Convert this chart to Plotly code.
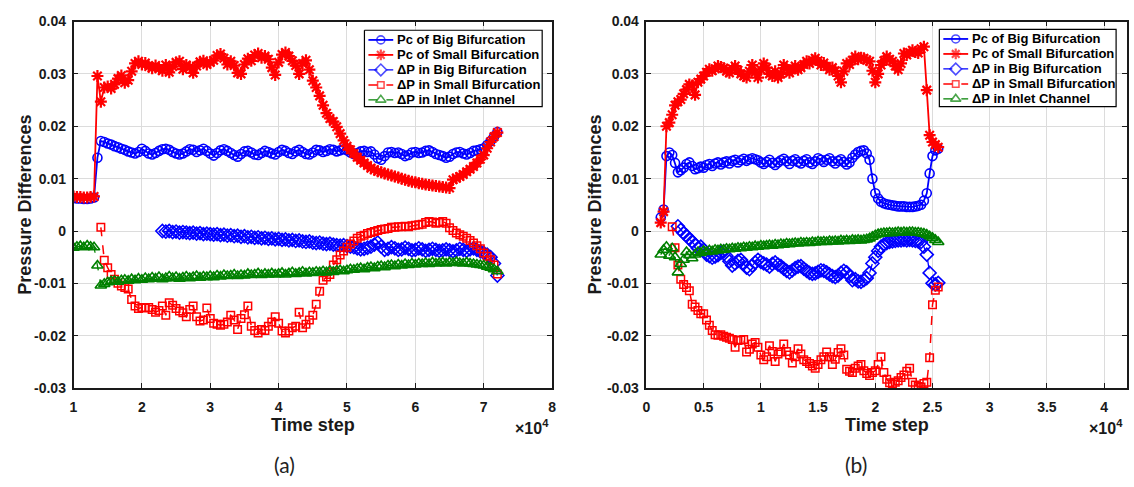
import numpy as np
import plotly.graph_objects as go

# ---------------------------------------------------------------
# Time steps: panel (a) sampled every 500 steps, panel (b) every 250
# ---------------------------------------------------------------
time_a = np.arange(10000, 72001, 500)      # 1.0e4 ... 7.2e4  (125 samples)
time_b = np.arange(1250, 25501, 250)       # 0.125e4 ... 2.55e4 (98 samples)

N = None

# ----------------------------- panel (a) -----------------------------
pc_big_a = [
    0.0063, 0.0062, 0.0062, 0.0061, 0.0061, 0.0062, 0.0064, 0.0140, 0.0172, 0.0170,
    0.0167, 0.0165, 0.0162, 0.0160, 0.0157, 0.0155, 0.0152, 0.0150, 0.0148, 0.0151,
    0.0157, 0.0153, 0.0148, 0.0146, 0.0149, 0.0153, 0.0156, 0.0157, 0.0155, 0.0151,
    0.0148, 0.0146, 0.0148, 0.0152, 0.0156, 0.0155, 0.0151, 0.0154, 0.0157, 0.0153,
    0.0148, 0.0144, 0.0149, 0.0154, 0.0156, 0.0153, 0.0149, 0.0145, 0.0142, 0.0147,
    0.0152, 0.0153, 0.0150, 0.0146, 0.0145, 0.0149, 0.0153, 0.0151, 0.0148, 0.0146,
    0.0151, 0.0155, 0.0153, 0.0149, 0.0147, 0.0152, 0.0155, 0.0151, 0.0147, 0.0146,
    0.0150, 0.0155, 0.0154, 0.0151, 0.0153, 0.0156, 0.0155, 0.0152, 0.0154, 0.0156,
    0.0154, 0.0150, 0.0147, 0.0149, 0.0152, 0.0153, 0.0151, 0.0152, 0.0146, 0.0139,
    0.0136, 0.0143, 0.0150, 0.0151, 0.0149, 0.0150, 0.0147, 0.0143, 0.0145, 0.0150,
    0.0151, 0.0149, 0.0150, 0.0153, 0.0154, 0.0151, 0.0147, 0.0145, 0.0143, 0.0140,
    0.0142, 0.0147, 0.0150, 0.0151, 0.0148, 0.0146, 0.0149, 0.0153, 0.0154, 0.0156,
    0.0158, 0.0164, 0.0172, 0.0180, 0.0189,
]

pc_small_a = [
    0.0066, 0.0065, 0.0065, 0.0064, 0.0064, 0.0065, 0.0066, 0.0296, 0.0247, 0.0274,
    0.0276, 0.0272, 0.0280, 0.0291, 0.0297, 0.0283, 0.0288, 0.0305, 0.0320, 0.0324,
    0.0318, 0.0321, 0.0314, 0.0311, 0.0316, 0.0310, 0.0306, 0.0317, 0.0303, 0.0314,
    0.0322, 0.0324, 0.0309, 0.0317, 0.0313, 0.0302, 0.0315, 0.0323, 0.0325, 0.0318,
    0.0322, 0.0326, 0.0335, 0.0338, 0.0330, 0.0318, 0.0324, 0.0316, 0.0302, 0.0300,
    0.0318, 0.0329, 0.0325, 0.0336, 0.0339, 0.0331, 0.0334, 0.0328, 0.0312, 0.0298,
    0.0322, 0.0337, 0.0341, 0.0334, 0.0325, 0.0316, 0.0300, 0.0320, 0.0326, 0.0308,
    0.0287, 0.0274, 0.0258, 0.0240, 0.0225, 0.0215, 0.0209, 0.0199, 0.0186, 0.0173,
    0.0162, 0.0155, 0.0148, 0.0141, 0.0135, 0.0130, 0.0125, 0.0120, 0.0117, 0.0114,
    0.0112, 0.0110, 0.0108, 0.0106, 0.0104, 0.0102, 0.0100, 0.0098, 0.0096, 0.0094,
    0.0093, 0.0091, 0.0090, 0.0089, 0.0088, 0.0087, 0.0086, 0.0085, 0.0084, 0.0083,
    0.0082, 0.0098, 0.0101, 0.0104, 0.0108, 0.0113, 0.0118, 0.0123, 0.0130, 0.0137,
    0.0145, 0.0158, 0.0170, 0.0180, 0.0188,
]

dp_big_a = [
    N, N, N, N, N, N, N, N, N, N,
    N, N, N, N, N, N, N, N, N, N,
    N, N, N, N, N, N, 0.0000, -0.0001, 0.0000, -0.0002,
    -0.0001, -0.0003, -0.0002, -0.0003, -0.0004, -0.0003, -0.0005, -0.0004, -0.0006, -0.0005,
    -0.0006, -0.0007, -0.0006, -0.0008, -0.0007, -0.0009, -0.0008, -0.0010, -0.0009, -0.0011,
    -0.0010, -0.0012, -0.0011, -0.0013, -0.0012, -0.0014, -0.0013, -0.0015, -0.0014, -0.0016,
    -0.0015, -0.0017, -0.0016, -0.0018, -0.0017, -0.0019, -0.0018, -0.0020, -0.0021, -0.0020,
    -0.0022, -0.0023, -0.0022, -0.0024, -0.0025, -0.0024, -0.0026, -0.0027, -0.0028, -0.0027,
    -0.0029, -0.0030, -0.0031, -0.0033, -0.0035, -0.0034, -0.0032, -0.0030, -0.0026, -0.0022,
    -0.0030, -0.0036, -0.0034, -0.0031, -0.0033, -0.0036, -0.0035, -0.0032, -0.0034, -0.0037,
    -0.0036, -0.0033, -0.0035, -0.0038, -0.0036, -0.0034, -0.0036, -0.0038, -0.0037, -0.0035,
    -0.0037, -0.0039, -0.0037, -0.0034, -0.0036, -0.0038, -0.0035, -0.0033, -0.0036, -0.0039,
    -0.0042, -0.0045, -0.0050, -0.0062, -0.0085,
]

dp_small_a = [
    N, N, N, N, N, N, N, N, 0.0007, -0.0056,
    -0.0070, -0.0083, -0.0092, -0.0100, -0.0105, -0.0108, -0.0111, -0.0131, -0.0143, -0.0148,
    -0.0146, -0.0147, -0.0146, -0.0150, -0.0155, -0.0152, -0.0143, -0.0161, -0.0137, -0.0142,
    -0.0148, -0.0153, -0.0156, -0.0164, -0.0150, -0.0143, -0.0164, -0.0172, -0.0170, -0.0147,
    -0.0167, -0.0176, -0.0178, -0.0180, -0.0178, -0.0174, -0.0161, -0.0170, -0.0188, -0.0167,
    -0.0160, -0.0143, -0.0182, -0.0190, -0.0195, -0.0188, -0.0190, -0.0182, -0.0174, -0.0164,
    -0.0176, -0.0191, -0.0195, -0.0191, -0.0185, -0.0182, -0.0155, -0.0185, -0.0178, -0.0170,
    -0.0161, -0.0140, -0.0115, -0.0094, -0.0088, -0.0083, -0.0065, -0.0055, -0.0046, -0.0038,
    -0.0031, -0.0025, -0.0019, -0.0014, -0.0010, -0.0008, -0.0005, -0.0003, -0.0001, 0.0001,
    0.0003, 0.0004, 0.0005, 0.0007, 0.0007, 0.0008, 0.0008, 0.0009, 0.0008, 0.0010,
    0.0011, 0.0012, 0.0013, 0.0016, 0.0018, 0.0017, 0.0015, 0.0016, 0.0018, 0.0015,
    0.0006, 0.0001, -0.0004, -0.0007, -0.0010, -0.0014, -0.0018, -0.0023, -0.0028, -0.0034,
    -0.0042, -0.0048, -0.0055, -0.0065, -0.0082,
]

dp_inlet_a = [
    -0.0032, -0.0030, -0.0029, -0.0031, -0.0028, -0.0030, -0.0031, -0.0066, -0.0104, -0.0101,
    -0.0098, -0.0096, -0.0095, -0.0097, -0.0094, -0.0093, -0.0095, -0.0092, -0.0094, -0.0091,
    -0.0093, -0.0090, -0.0092, -0.0089, -0.0091, -0.0088, -0.0092, -0.0090, -0.0087, -0.0090,
    -0.0088, -0.0091, -0.0089, -0.0087, -0.0090, -0.0088, -0.0086, -0.0089, -0.0087, -0.0088,
    -0.0086, -0.0088, -0.0085, -0.0087, -0.0084, -0.0086, -0.0085, -0.0083, -0.0086, -0.0084,
    -0.0085, -0.0082, -0.0084, -0.0083, -0.0081, -0.0084, -0.0082, -0.0083, -0.0081, -0.0083,
    -0.0082, -0.0080, -0.0083, -0.0081, -0.0079, -0.0082, -0.0080, -0.0078, -0.0081, -0.0079,
    -0.0080, -0.0078, -0.0079, -0.0077, -0.0079, -0.0076, -0.0078, -0.0076, -0.0075, -0.0077,
    -0.0075, -0.0073, -0.0074, -0.0072, -0.0071, -0.0073, -0.0070, -0.0069, -0.0071, -0.0068,
    -0.0067, -0.0069, -0.0066, -0.0065, -0.0067, -0.0064, -0.0066, -0.0063, -0.0065, -0.0062,
    -0.0064, -0.0062, -0.0063, -0.0061, -0.0063, -0.0060, -0.0062, -0.0061, -0.0060, -0.0062,
    -0.0060, -0.0061, -0.0059, -0.0061, -0.0062, -0.0060, -0.0062, -0.0063, -0.0064, -0.0065,
    -0.0066, -0.0068, -0.0070, -0.0073, -0.0077,
]

# ----------------------------- panel (b) -----------------------------
pc_big_b = [
    0.0026, 0.0041, 0.0143, 0.0150, 0.0145, 0.0130, 0.0112, 0.0116, 0.0121, 0.0128,
    0.0131, 0.0124, 0.0118, 0.0120, 0.0123, 0.0121, 0.0126, 0.0128, 0.0124, 0.0129,
    0.0131, 0.0127, 0.0131, 0.0133, 0.0129, 0.0134, 0.0136, 0.0131, 0.0135, 0.0138,
    0.0134, 0.0137, 0.0139, 0.0137, 0.0135, 0.0131, 0.0128, 0.0132, 0.0136, 0.0130,
    0.0126, 0.0131, 0.0135, 0.0138, 0.0133, 0.0128, 0.0134, 0.0137, 0.0132, 0.0129,
    0.0134, 0.0137, 0.0131, 0.0128, 0.0133, 0.0139, 0.0136, 0.0132, 0.0136, 0.0139,
    0.0133, 0.0129, 0.0134, 0.0137, 0.0132, 0.0127, 0.0131, 0.0140, 0.0146, 0.0151,
    0.0153, 0.0154, 0.0148, 0.0136, 0.0100, 0.0072, 0.0062, 0.0056, 0.0053, 0.0051,
    0.0050, 0.0049, 0.0048, 0.0047, 0.0047, 0.0047, 0.0046, 0.0046, 0.0046, 0.0047,
    0.0048, 0.0050, 0.0058, 0.0072, 0.0110, 0.0143, 0.0154, 0.0157,
]

pc_small_b = [
    0.0016, 0.0037, 0.0200, 0.0207, 0.0222, 0.0240, 0.0247, 0.0251, 0.0262, 0.0270,
    0.0280, 0.0278, 0.0260, 0.0284, 0.0290, 0.0296, 0.0303, 0.0309, 0.0306, 0.0310,
    0.0315, 0.0313, 0.0311, 0.0305, 0.0302, 0.0310, 0.0315, 0.0307, 0.0300, 0.0296,
    0.0293, 0.0305, 0.0317, 0.0303, 0.0293, 0.0308, 0.0320, 0.0312, 0.0300, 0.0296,
    0.0305, 0.0293, 0.0300, 0.0317, 0.0310, 0.0302, 0.0308, 0.0315, 0.0308, 0.0312,
    0.0318, 0.0324, 0.0320, 0.0326, 0.0330, 0.0325, 0.0317, 0.0321, 0.0314, 0.0308,
    0.0312, 0.0306, 0.0296, 0.0284, 0.0305, 0.0320, 0.0318, 0.0326, 0.0333, 0.0328,
    0.0331, 0.0330, 0.0326, 0.0324, 0.0306, 0.0284, 0.0300, 0.0317, 0.0325, 0.0333,
    0.0328, 0.0324, 0.0315, 0.0308, 0.0320, 0.0339, 0.0336, 0.0341, 0.0345, 0.0342,
    0.0340, 0.0348, 0.0352, 0.0269, 0.0183, 0.0170, 0.0165, 0.0160,
]

dp_big_b = [
    N, N, N, N, N, N, 0.0009, 0.0002, -0.0004, -0.0009,
    -0.0015, -0.0020, -0.0026, -0.0033, -0.0030, -0.0036, -0.0045, -0.0048, -0.0051, -0.0049,
    -0.0046, -0.0042, -0.0039, -0.0048, -0.0058, -0.0066, -0.0062, -0.0057, -0.0055, -0.0062,
    -0.0070, -0.0073, -0.0066, -0.0060, -0.0055, -0.0059, -0.0062, -0.0064, -0.0068, -0.0063,
    -0.0060, -0.0064, -0.0067, -0.0072, -0.0076, -0.0079, -0.0075, -0.0071, -0.0068, -0.0067,
    -0.0072, -0.0076, -0.0080, -0.0082, -0.0081, -0.0078, -0.0075, -0.0076, -0.0079, -0.0083,
    -0.0086, -0.0088, -0.0085, -0.0080, -0.0076, -0.0079, -0.0086, -0.0094, -0.0092, -0.0096,
    -0.0097, -0.0094, -0.0090, -0.0080, -0.0062, -0.0050, -0.0038, -0.0030, -0.0026, -0.0023,
    -0.0021, -0.0020, -0.0019, -0.0018, -0.0018, -0.0017, -0.0018, -0.0017, -0.0018, -0.0019,
    -0.0020, -0.0021, -0.0030, -0.0045, -0.0080, -0.0100, -0.0102, -0.0099,
]

dp_small_b = [
    N, N, N, N, 0.0008, -0.0032, -0.0065, -0.0092, -0.0102, -0.0108,
    -0.0114, -0.0140, -0.0145, -0.0152, -0.0158, -0.0158, -0.0170, -0.0180, -0.0190, -0.0198,
    -0.0199, -0.0198, -0.0201, -0.0203, -0.0205, -0.0207, -0.0222, -0.0209, -0.0208, -0.0207,
    -0.0231, -0.0226, -0.0216, -0.0213, -0.0222, -0.0237, -0.0246, -0.0240, -0.0219, -0.0230,
    -0.0249, -0.0235, -0.0231, -0.0216, -0.0230, -0.0237, -0.0252, -0.0240, -0.0225, -0.0235,
    -0.0246, -0.0249, -0.0253, -0.0258, -0.0262, -0.0255, -0.0246, -0.0240, -0.0231, -0.0240,
    -0.0255, -0.0245, -0.0232, -0.0225, -0.0237, -0.0264, -0.0268, -0.0270, -0.0262, -0.0258,
    -0.0255, -0.0267, -0.0272, -0.0276, -0.0270, -0.0267, -0.0255, -0.0240, -0.0270, -0.0283,
    -0.0290, -0.0292, -0.0289, -0.0286, -0.0280, -0.0275, -0.0268, -0.0262, -0.0289, -0.0294,
    -0.0297, -0.0298, -0.0291, -0.0289, -0.0242, -0.0141, -0.0113, -0.0107,
]

dp_inlet_b = [
    -0.0045, -0.0036, -0.0030, -0.0047, -0.0033, -0.0050, -0.0079, -0.0063, -0.0055, -0.0040,
    -0.0046, -0.0052, -0.0045, -0.0040, -0.0042, -0.0038, -0.0040, -0.0037, -0.0039, -0.0036,
    -0.0037, -0.0035, -0.0036, -0.0034, -0.0035, -0.0033, -0.0034, -0.0032, -0.0033, -0.0031,
    -0.0032, -0.0030, -0.0031, -0.0029, -0.0030, -0.0028, -0.0029, -0.0028, -0.0027, -0.0028,
    -0.0026, -0.0027, -0.0025, -0.0026, -0.0024, -0.0025, -0.0024, -0.0023, -0.0024, -0.0022,
    -0.0023, -0.0022, -0.0023, -0.0021, -0.0022, -0.0020, -0.0021, -0.0020, -0.0021, -0.0019,
    -0.0020, -0.0019, -0.0020, -0.0018, -0.0019, -0.0018, -0.0019, -0.0017, -0.0018, -0.0017,
    -0.0018, -0.0017, -0.0016, -0.0014, -0.0011, -0.0008, -0.0006, -0.0005, -0.0004, -0.0004,
    -0.0003, -0.0004, -0.0003, -0.0002, -0.0003, -0.0002, -0.0003, -0.0002, -0.0002, -0.0003,
    -0.0003, -0.0004, -0.0005, -0.0007, -0.0010, -0.0013, -0.0017, -0.0021,
]

series_names = [
    "Pc of Big Bifurcation",
    "Pc of Small Bifurcation",
    "ΔP in Big Bifurcation",
    "ΔP in Small Bifurcation",
    "ΔP in Inlet Channel",
]

# ----------------------------- styling -----------------------------
BLUE, RED, GREEN = "#0000FF", "#FF0000", "#008000"
styles = [
    dict(color=BLUE, symbol="circle-open", size=9, dash="solid", lw=1.8, mlw=1.6),
    dict(color=RED, symbol="asterisk-open", size=10, dash="solid", lw=1.8, mlw=2.2),
    dict(color=BLUE, symbol="diamond-open", size=10, dash="dash", lw=1.3, mlw=1.6),
    dict(color=RED, symbol="square-open", size=7.5, dash="dash", lw=1.5, mlw=1.5),
    dict(color=GREEN, symbol="triangle-up-open", size=10, dash="dash", lw=1.3, mlw=1.6),
]

FONT = "Liberation Sans, Arial, sans-serif"
AXIS_COLOR = "#1a1a1a"
W, H = 1134, 487

fig = go.Figure()

panels = [
    ("x", "y", time_a, [pc_big_a, pc_small_a, dp_big_a, dp_small_a, dp_inlet_a]),
    ("x2", "y2", time_b, [pc_big_b, pc_small_b, dp_big_b, dp_small_b, dp_inlet_b]),
]

for xa, ya, t, data in panels:
    for name, vals, st in zip(series_names, data, styles):
        fig.add_trace(go.Scatter(
            x=t, y=vals, name=name, xaxis=xa, yaxis=ya, showlegend=False,
            mode="lines+markers",
            line=dict(color=st["color"], width=st["lw"], dash=st["dash"]),
            marker=dict(symbol=st["symbol"], size=st["size"], color=st["color"],
                        line=dict(width=st["mlw"], color=st["color"])),
        ))

# ---------------- legend boxes, drawn on a pixel-space overlay ----------------
legend_boxes = [
    # left, top, right, bottom, row centres
    (363, 23, 542, 102, [33, 48.5, 64, 79.5, 95]),
    (942, 22, 1120, 102, [32, 47.5, 63, 78.5, 94]),
]
legend_font = dict(family=FONT, size=13, color="black", weight="bold")
annotations = []
for left, top, right, bottom, rows in legend_boxes:
    fig.add_trace(go.Scatter(
        x=[left, right, right, left, left], y=[top, top, bottom, bottom, top],
        xaxis="x3", yaxis="y3", mode="lines", fill="toself", fillcolor="white",
        line=dict(color="black", width=1.2), showlegend=False, hoverinfo="skip"))
    for name, st, ry in zip(series_names, styles, rows):
        fig.add_trace(go.Scatter(
            x=[left + 4, left + 16.5, left + 29], y=[ry, ry, ry],
            xaxis="x3", yaxis="y3", mode="lines+markers", showlegend=False,
            hoverinfo="skip",
            line=dict(color=st["color"], width=st["lw"], dash=st["dash"]),
            marker=dict(symbol=st["symbol"], size=[0, st["size"] - 1, 0],
                        color=st["color"],
                        line=dict(width=st["mlw"], color=st["color"]))))
        annotations.append(dict(
            text=name, x=(left + 31) / W, y=(H - ry) / H, xref="paper",
            yref="paper", xanchor="left", yanchor="middle", showarrow=False,
            font=legend_font))


def px_x(p):
    return p / W


def px_y(p):
    return (H - p) / H


y_ticks = [-0.03, -0.02, -0.01, 0, 0.01, 0.02, 0.03, 0.04]
y_tick_text = ["-0.03", "-0.02", "-0.01", "0", "0.01", "0.02", "0.03", "0.04"]
xa_ticks = list(range(10000, 80001, 10000))
xa_text = ["1", "2", "3", "4", "5", "6", "7", "8"]
xb_ticks = list(range(0, 40001, 5000))
xb_text = ["0", "0.5", "1", "1.5", "2", "2.5", "3", "3.5", "4"]

common_axis = dict(
    showline=True, linecolor=AXIS_COLOR, linewidth=1.5, mirror="ticks",
    ticks="inside", ticklen=5, tickwidth=1.3, tickcolor=AXIS_COLOR,
    showgrid=True, gridcolor="#dcdcdc", gridwidth=1, zeroline=False,
    tickfont=dict(family=FONT, size=14, color=AXIS_COLOR, weight="bold"),
)

y_dom = [px_y(393), px_y(14)]
fig.update_layout(
    width=W, height=H,
    margin=dict(l=0, r=0, t=0, b=0),
    paper_bgcolor="white", plot_bgcolor="rgba(0,0,0,0)",
    showlegend=False,
    xaxis=dict(domain=[px_x(70), px_x(552)], range=[10000, 80000],
               tickvals=xa_ticks, ticktext=xa_text, anchor="y",
               ticklabelstandoff=5, **common_axis),
    yaxis=dict(domain=y_dom, range=[-0.03, 0.04], tickvals=y_ticks,
               ticktext=y_tick_text, anchor="x", ticklabelstandoff=3,
               **common_axis),
    xaxis2=dict(domain=[px_x(647), px_x(1131)], range=[0, 42000],
                tickvals=xb_ticks, ticktext=xb_text, anchor="y2",
                ticklabelstandoff=5, **common_axis),
    yaxis2=dict(domain=y_dom, range=[-0.03, 0.04], tickvals=y_ticks,
                ticktext=y_tick_text, anchor="x2", ticklabelstandoff=3,
                **common_axis),
    xaxis3=dict(domain=[0, 1], range=[0, W], visible=False, anchor="y3",
                fixedrange=True),
    yaxis3=dict(domain=[0, 1], range=[H, 0], visible=False, anchor="x3",
                fixedrange=True),
)

title_font = dict(family=FONT, size=18, color=AXIS_COLOR, weight="bold")
for cx, ylab_x, right_edge, label, label_x in [
        (311, 21, 551, "(a)", 282), (889, 595, 1129, "(b)", 858)]:
    annotations.append(dict(text="Time step", x=px_x(cx), y=px_y(431),
                            xref="paper", yref="paper", showarrow=False,
                            xanchor="center", yanchor="middle", font=title_font))
    annotations.append(dict(text="Pressure Differences", x=px_x(ylab_x),
                            y=px_y(203.5), xref="paper", yref="paper",
                            showarrow=False, textangle=-90, xanchor="center",
                            yanchor="middle", font=title_font))
    annotations.append(dict(text="×10<sup>4</sup>", x=px_x(right_edge),
                            y=px_y(433), xref="paper", yref="paper",
                            showarrow=False, xanchor="right", yanchor="middle",
                            font=dict(family=FONT, size=16, color=AXIS_COLOR,
                                      weight="bold")))
    annotations.append(dict(text=label, x=px_x(label_x), y=px_y(472),
                            xref="paper", yref="paper", showarrow=False,
                            xanchor="center", yanchor="middle",
                            font=dict(family="Lato, Open Sans, sans-serif",
                                      size=21, color="#222222")))
fig.update_layout(annotations=annotations)

fig.write_html("out.html")
